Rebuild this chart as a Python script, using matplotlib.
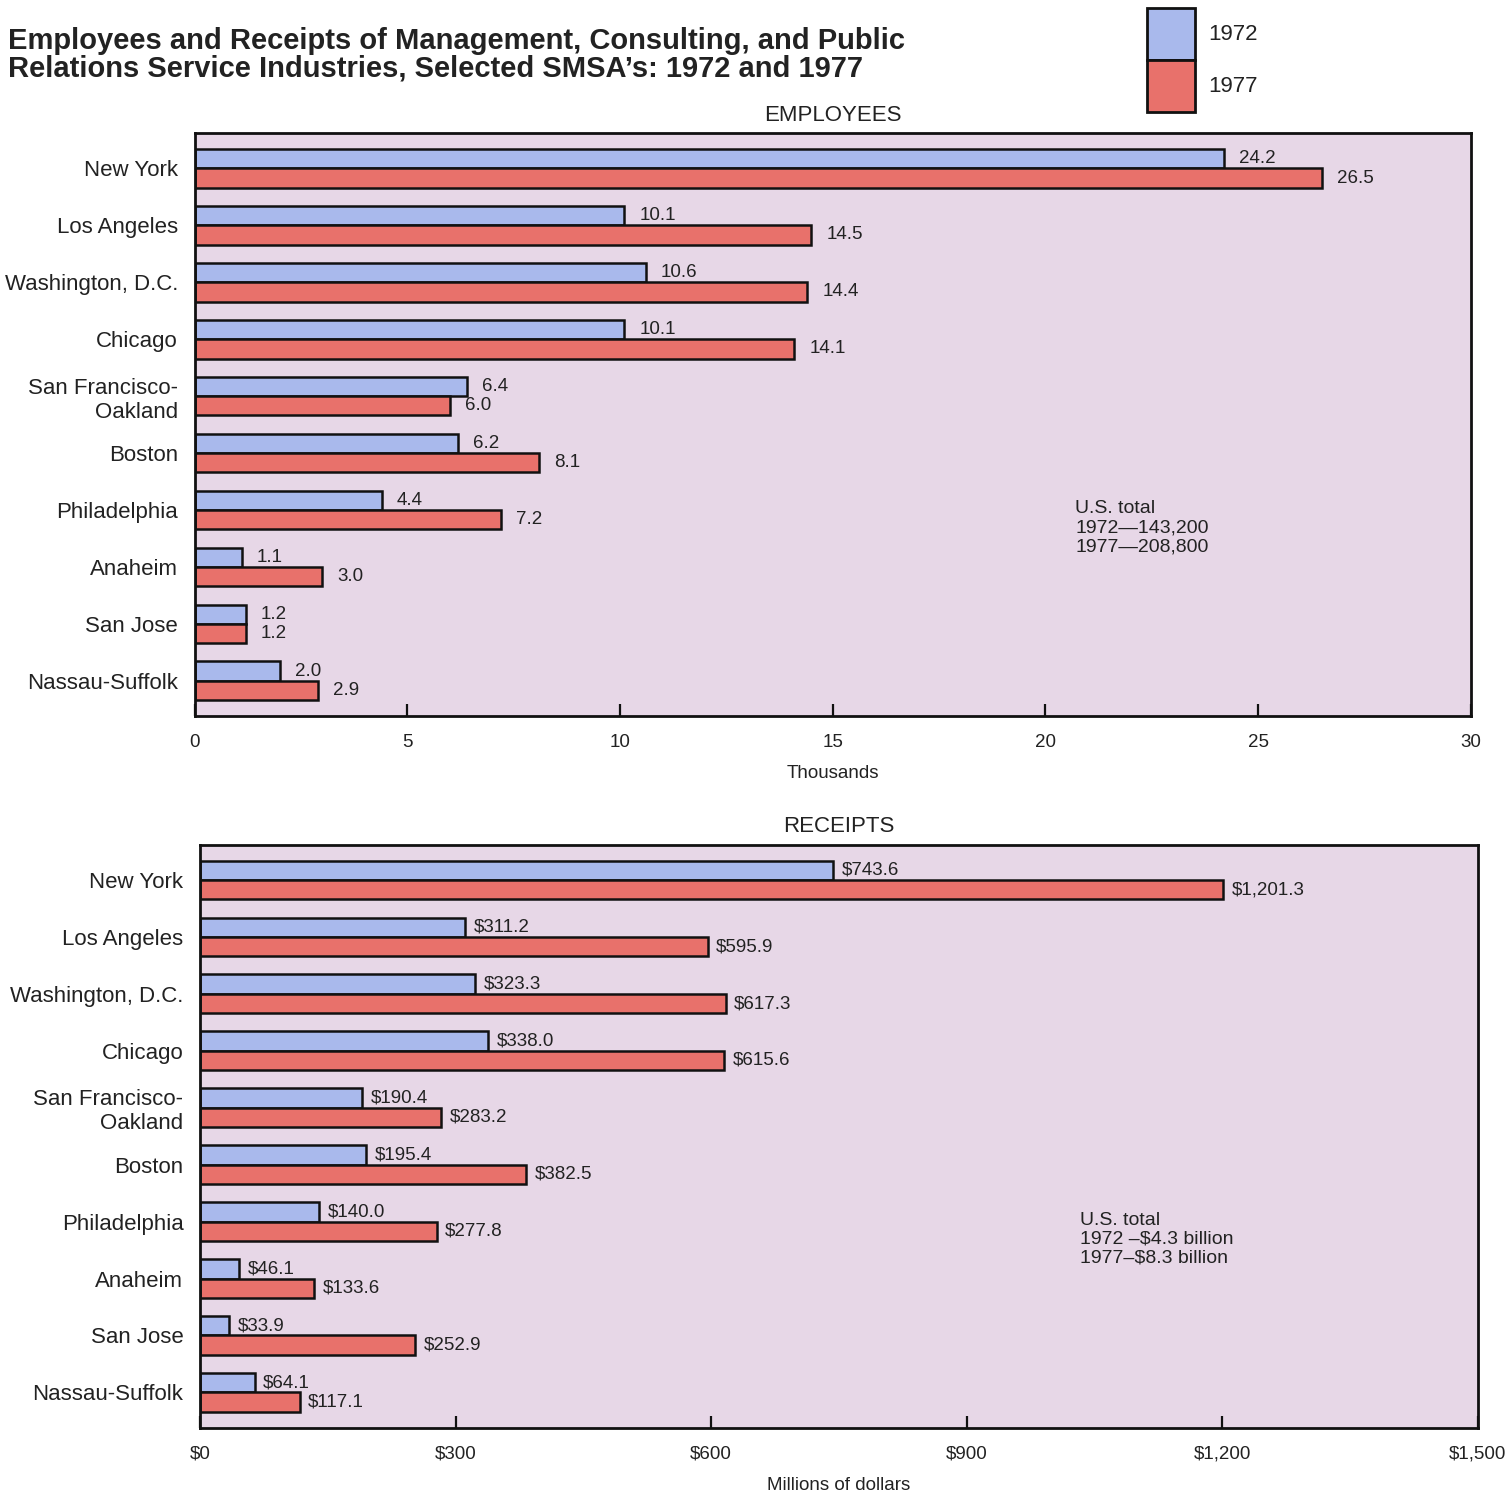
import matplotlib
matplotlib.use("Agg")
import matplotlib.pyplot as plt
from matplotlib.patches import Rectangle
import numpy as np

plt.rcParams["font.family"] = ["Liberation Sans", "DejaVu Sans"]

cities = ["New York", "Los Angeles", "Washington, D.C.", "Chicago",
          "San Francisco-\nOakland", "Boston", "Philadelphia", "Anaheim",
          "San Jose", "Nassau-Suffolk"]

emp_1972 = [24.2, 10.1, 10.6, 10.1, 6.4, 6.2, 4.4, 1.1, 1.2, 2.0]
emp_1977 = [26.5, 14.5, 14.4, 14.1, 6.0, 8.1, 7.2, 3.0, 1.2, 2.9]

rec_1972 = [743.6, 311.2, 323.3, 338.0, 190.4, 195.4, 140.0, 46.1, 33.9, 64.1]
rec_1977 = [1201.3, 595.9, 617.3, 615.6, 283.2, 382.5, 277.8, 133.6, 252.9, 117.1]

emp_ticks = [0, 5, 10, 15, 20, 25, 30]
rec_ticks = [0, 300, 600, 900, 1200, 1500]
rec_tick_labels = ["$0", "$300", "$600", "$900", "$1,200", "$1,500"]

C72 = "#a9b9ec"
C77 = "#e8716b"
BG = "#e7d7e7"
TXT = "#222222"

fig = plt.figure(figsize=(15.1, 14.95), dpi=100)
fig.patch.set_facecolor("white")


def panel(rect, v72, v77, xmax, ticks, ticklabels, fmt, gap, heading, xlabel):
    ax = fig.add_axes(rect)
    ax.set_facecolor(BG)
    y = np.arange(len(cities))
    h = 0.34
    ax.barh(y - h / 2, v72, height=h, color=C72, edgecolor="#111111", linewidth=1.8)
    ax.barh(y + h / 2, v77, height=h, color=C77, edgecolor="#111111", linewidth=1.8)
    for yi, a, b in zip(y, v72, v77):
        ax.text(a + gap, yi - h / 2, fmt(a), va="center", ha="left", fontsize=13.5, color=TXT)
        ax.text(b + gap, yi + h / 2, fmt(b), va="center", ha="left", fontsize=13.5, color=TXT)
    ax.set_xlim(0, xmax)
    ax.set_ylim(len(cities) - 0.38, -0.62)
    ax.set_yticks(y)
    ax.set_yticklabels(cities, fontsize=16, color=TXT, ha="right")
    ax.tick_params(axis="y", length=0, pad=12)
    ax.set_xticks(ticks)
    ax.set_xticklabels(ticklabels, fontsize=13.5, color=TXT)
    ax.tick_params(axis="x", direction="in", length=9, width=1.6, pad=13, color="#111111")
    for s in ax.spines.values():
        s.set_linewidth(2)
        s.set_color("#111111")
    ax.set_title(heading, fontsize=16, color=TXT, pad=9)
    ax.set_xlabel(xlabel, fontsize=13.5, color=TXT, labelpad=10)
    return ax


ax1 = panel([0.129, 0.521, 0.845, 0.390], emp_1972, emp_1977, 30,
            emp_ticks, [str(t) for t in emp_ticks], lambda v: f"{v:.1f}", 0.35,
            "EMPLOYEES", "Thousands")
ax1.text(0.69, 0.37, "U.S. total\n1972\u2014143,200\n1977\u2014208,800",
         transform=ax1.transAxes, fontsize=14, color=TXT, va="top", linespacing=1.15)

ax2 = panel([0.1325, 0.045, 0.846, 0.390], rec_1972, rec_1977, 1500,
            rec_ticks, rec_tick_labels, lambda v: f"${v:,.1f}", 10,
            "RECEIPTS", "Millions of dollars")
ax2.text(0.689, 0.37, "U.S. total\n1972 \u2013$4.3 billion\n1977\u2013$8.3 billion",
         transform=ax2.transAxes, fontsize=14, color=TXT, va="top", linespacing=1.15)

fig.text(0.005, 0.982, "Employees and Receipts of Management, Consulting, and Public\n"
         "Relations Service Industries, Selected SMSA\u2019s: 1972 and 1977",
         fontsize=21, fontweight="bold", color=TXT, va="top", ha="left", linespacing=1.0)

# legend: two stacked boxes
W, H = 1510, 1495
for (y0, c, lab) in [(8, C72, "1972"), (60, C77, "1977")]:
    fig.patches.append(Rectangle((1147 / W, 1 - (y0 + 52) / H), 48 / W, 52 / H,
                                 transform=fig.transFigure, facecolor=c,
                                 edgecolor="#111111", linewidth=2))
    fig.text(1208 / W, 1 - (y0 + 26) / H, lab, fontsize=16, color=TXT, va="center")

fig.savefig("out.png", dpi=100)
